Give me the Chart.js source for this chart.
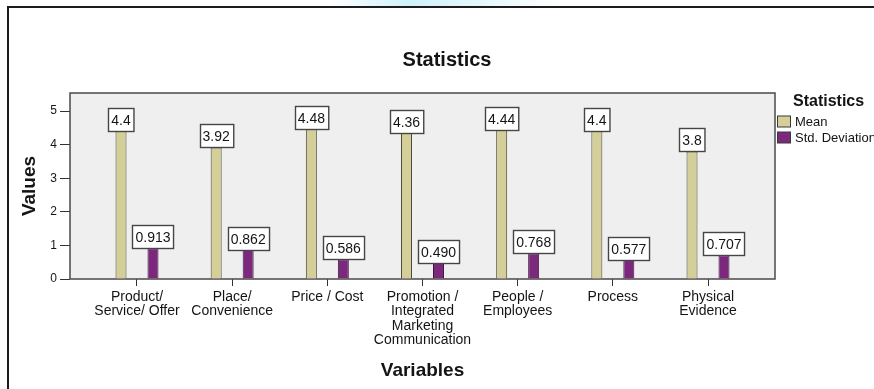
<!DOCTYPE html>
<html>
<head>
<meta charset="utf-8">
<title>Statistics</title>
<script src="https://cdn.jsdelivr.net/npm/chart.js@4/dist/chart.umd.min.js"></script>
<style>
  html, body { margin: 0; padding: 0; background: #fff; overflow: hidden; }
  #wrap { position: absolute; left: 0; top: 0; width: 894px; height: 400px; }
</style>
</head>
<body>
<div id="wrap"><canvas id="chart" width="894" height="400"></canvas></div>
<script>
// Marketing-mix variables (x axis categories, one array of lines per label)
const variables = [
  ['Product/', 'Service/ Offer'],
  ['Place/', 'Convenience'],
  ['Price / Cost'],
  ['Promotion /', 'Integrated', 'Marketing', 'Communication'],
  ['People /', 'Employees'],
  ['Process'],
  ['Physical', 'Evidence']
];
// Series values
const meanValues = [4.4, 3.92, 4.48, 4.36, 4.44, 4.4, 3.8];
const stdValues = [0.913, 0.862, 0.586, 0.490, 0.768, 0.577, 0.707];
const seriesNames = ['Mean', 'Std. Deviation'];
// Value axis ticks
const yTicks = [0, 1, 2, 3, 4, 5];

const FONT = "'Liberation Sans', Arial, Helvetica, sans-serif";
const TEXT = '#141414';

const toPoints = vals => vals.map((v, i) => ({ x: i, y: v }));

// Light gray plot panel with a dark frame, plus the outer page frame
const panelPlugin = {
  id: 'panel',
  beforeDraw(chart) {
    const { ctx, chartArea: a } = chart;
    ctx.save();
    // faint glow along the top edge
    const g = ctx.createLinearGradient(330, 0, 560, 0);
    g.addColorStop(0, 'rgba(200,240,250,0)');
    g.addColorStop(0.35, 'rgba(200,240,250,0.9)');
    g.addColorStop(0.7, 'rgba(215,244,250,0.6)');
    g.addColorStop(1, 'rgba(220,245,250,0)');
    ctx.fillStyle = g;
    ctx.fillRect(330, 0, 230, 7);
    // outer frame
    ctx.strokeStyle = '#1c1c1c';
    ctx.lineWidth = 2;
    ctx.beginPath();
    ctx.moveTo(8, chart.height + 5);
    ctx.lineTo(8, 7);
    ctx.lineTo(chart.width + 5, 7);
    ctx.stroke();
    // plot panel
    ctx.fillStyle = '#efefef';
    ctx.fillRect(a.left, a.top, a.right - a.left, a.bottom - a.top);
    ctx.restore();
  },
  beforeDatasetsDraw(chart) {
    const { ctx, chartArea: a } = chart;
    ctx.save();
    ctx.strokeStyle = '#4a4a4a';
    ctx.lineWidth = 1.5;
    ctx.strokeRect(a.left, a.top, a.right - a.left, a.bottom - a.top);
    ctx.restore();
  }
};

// Boxed value labels sitting on top of each bar
const valueLabelPlugin = {
  id: 'valueLabels',
  afterDatasetsDraw(chart) {
    const { ctx } = chart;
    ctx.save();
    ctx.font = '14px ' + FONT;
    ctx.textAlign = 'center';
    ctx.textBaseline = 'middle';
    chart.data.datasets.forEach((ds, di) => {
      const meta = chart.getDatasetMeta(di);
      meta.data.forEach((bar, i) => {
        const v = ds.data[i].y;
        const txt = di === 1 ? v.toFixed(3) : String(v);
        const w = ctx.measureText(txt).width + 6;
        const h = 23;
        const x0 = Math.round(bar.x - w / 2) + 0.5;
        const y0 = Math.round(bar.y - h) + 0.5;
        ctx.fillStyle = '#ffffff';
        ctx.fillRect(x0, y0, w, h);
        ctx.strokeStyle = '#454545';
        ctx.lineWidth = 1.4;
        ctx.strokeRect(x0, y0, w, h);
        ctx.fillStyle = TEXT;
        ctx.fillText(txt, bar.x, y0 + h / 2 + 1);
      });
    });
    ctx.restore();
  }
};

// Legend block to the right of the panel
const legendPlugin = {
  id: 'sideLegend',
  afterDraw(chart) {
    const { ctx, chartArea: a } = chart;
    const x = a.right + 2;
    ctx.save();
    ctx.fillStyle = TEXT;
    ctx.textBaseline = 'middle';
    ctx.textAlign = 'left';
    ctx.font = 'bold 16px ' + FONT;
    ctx.fillText('Statistics', x + 16, 102);
    ctx.font = '13px ' + FONT;
    chart.data.datasets.forEach((ds, i) => {
      const cy = 121.5 + i * 16;
      ctx.fillStyle = ds.backgroundColor;
      ctx.fillRect(x + 0.5, cy - 5.5, 13, 11);
      ctx.strokeStyle = '#3a3a3a';
      ctx.lineWidth = 1;
      ctx.strokeRect(x + 0.5, cy - 5.5, 13, 11);
      ctx.fillStyle = TEXT;
      ctx.fillText(ds.label, x + 18, cy + 0.5);
    });
    ctx.restore();
  }
};

new Chart(document.getElementById('chart'), {
  type: 'bar',
  data: {
    datasets: [
      {
        label: seriesNames[0],
        data: toPoints(meanValues),
        backgroundColor: '#d4cf98',
        borderColor: '#4a4a3e',
        borderWidth: 1,
        categoryPercentage: 0.672,
        barPercentage: 0.344
      },
      {
        label: seriesNames[1],
        data: toPoints(stdValues),
        backgroundColor: '#7c287d',
        borderColor: '#3a1a3a',
        borderWidth: 1,
        categoryPercentage: 0.672,
        barPercentage: 0.344
      }
    ]
  },
  options: {
    responsive: false,
    animation: false,
    devicePixelRatio: 1,
    layout: { padding: 0 },
    plugins: {
      legend: { display: false },
      tooltip: { enabled: false },
      title: {
        display: true,
        text: 'Statistics',
        color: TEXT,
        font: { family: FONT, size: 20, weight: 'bold', lineHeight: 1.2 },
        padding: { top: 48, bottom: 21 }
      }
    },
    scales: {
      x: {
        type: 'linear',
        position: 'bottom',
        offset: false,
        min: -0.704,
        max: 6.704,
        afterBuildTicks(s) { s.ticks = variables.map((_, i) => ({ value: i })); },
        afterFit(s) { s.height = 121; },
        ticks: {
          autoSkip: false,
          maxRotation: 0,
          minRotation: 0,
          padding: 4,
          color: TEXT,
          font: { family: FONT, size: 14, lineHeight: 1.03 },
          callback: v => variables[v]
        },
        grid: { offset: false, drawOnChartArea: false, drawTicks: true, tickLength: 7, color: '#333' },
        border: { display: false },
        title: {
          display: true,
          text: 'Variables',
          color: TEXT,
          font: { family: FONT, size: 19, weight: 'bold', lineHeight: 1.2 },
          padding: { top: 0, bottom: 17.6 }
        }
      },
      y: {
        type: 'linear',
        position: 'left',
        min: 0,
        max: 5.54,
        afterBuildTicks(s) { s.ticks = yTicks.map(v => ({ value: v })); },
        afterFit(s) { s.width = 70; },
        ticks: {
          padding: 3,
          color: TEXT,
          font: { family: FONT, size: 12 },
          callback: v => String(v)
        },
        grid: { drawOnChartArea: false, drawTicks: true, tickLength: 10, color: '#333' },
        border: { display: false },
        title: {
          display: true,
          text: 'Values',
          color: TEXT,
          font: { family: FONT, size: 19, weight: 'bold', lineHeight: 1.2 },
          padding: { top: 18.6, bottom: 0 }
        }
      },
      // reserves the space on the right that holds the legend
      legendSpace: {
        type: 'linear',
        position: 'right',
        display: true,
        afterFit(s) { s.width = 119; },
        ticks: { display: false },
        grid: { display: false, drawTicks: false },
        border: { display: false }
      }
    }
  },
  plugins: [panelPlugin, valueLabelPlugin, legendPlugin]
});
</script>
</body>
</html>
